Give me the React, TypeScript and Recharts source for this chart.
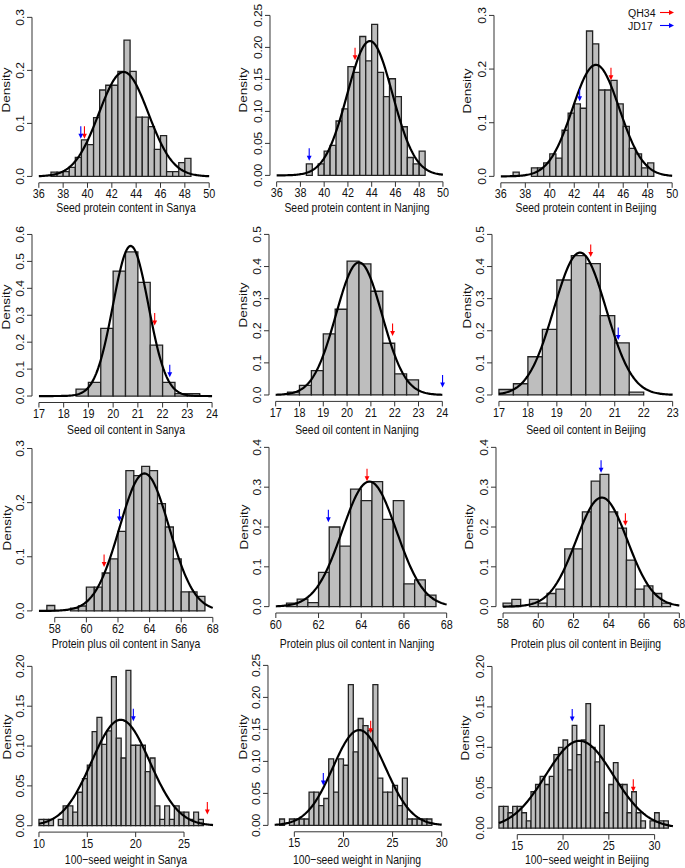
import React from 'react';
import { ComposedChart, XAxis, YAxis, Line, Scatter, ReferenceArea, ReferenceLine } from 'recharts';

const FONT = '"Liberation Sans", Arial, Helvetica, sans-serif';

// ---------------- data ----------------
const panelTitles = [
  'Seed protein content in Sanya', 'Seed protein content in Nanjing', 'Seed protein content in Beijing',
  'Seed oil content in Sanya', 'Seed oil content in Nanjing', 'Seed oil content in Beijing',
  'Protein plus oil content in Sanya', 'Protein plus oil content in Nanjing', 'Protein plus oil content in Beijing',
  '100\u2212seed weight in Sanya', '100\u2212seed weight in Nanjing', '100\u2212seed weight in Beijing',
];
const yLabel = 'Density';
const legendNames = ['QH34', 'JD17'];

const binWidth = 0.5;
const binStarts = [37, 38.5, 37, 18.5, 17.5, 17, 57.5, 60.5, 58, 10, 13.5, 13];

const sanyaProtein = [0.008, 0.008, 0.009, 0.017, 0.036, 0.069, 0.060, 0.111, 0.163, 0.172, 0.172, 0.198, 0.257, 0.198, 0.112, 0.112, 0.094, 0.051, 0.077, 0.009, 0.009, 0.026, 0.034];
const nanjingProtein = [0.018, 0, 0.018, 0.038, 0.047, 0.085, 0.104, 0.170, 0.161, 0.217, 0.179, 0.236, 0.161, 0.123, 0.151, 0.123, 0.076, 0.028, 0.018, 0.038];
const beijingProtein = [0.008, 0, 0, 0.016, 0.016, 0.025, 0.042, 0.034, 0.086, 0.118, 0.135, 0.127, 0.271, 0.247, 0.161, 0.161, 0.179, 0.135, 0.093, 0.052, 0.042, 0.016, 0.025];
const sanyaOil = [0.026, 0.051, 0.251, 0.464, 0.535, 0.422, 0.189, 0.051, 0.009, 0.009];
const nanjingOil = [0.009, 0.030, 0.076, 0.190, 0.267, 0.417, 0.408, 0.323, 0.161, 0.066, 0.047];
const beijingOil = [0.017, 0.035, 0.119, 0.204, 0.358, 0.434, 0.409, 0.247, 0.162, 0.009];
const sanyaProteinOil = [0.010, 0, 0, 0.005, 0.009, 0.044, 0.044, 0.070, 0.096, 0.147, 0.259, 0.250, 0.267, 0.259, 0.198, 0.155, 0.096, 0.035, 0.035, 0.027];
const nanjingProteinOil = [0.009, 0.019, 0.010, 0.086, 0.200, 0.152, 0.295, 0.266, 0.314, 0.219, 0.266, 0.057, 0.067, 0.029];
const beijingProteinOil = [0.009, 0.018, 0, 0.018, 0.009, 0.033, 0.044, 0.145, 0.145, 0.238, 0.315, 0.332, 0.238, 0.197, 0.117, 0.044, 0.052, 0.033, 0.009];
const sanyaWeight = [0.008, 0.008, 0.008, 0, 0.008, 0.025, 0.025, 0.017, 0.042, 0.059, 0.076, 0.118, 0.136, 0.102, 0.119, 0.187, 0.110, 0.085, 0.195, 0.101, 0.101, 0.101, 0.068, 0.085, 0.025, 0.008, 0.025, 0.008, 0.025, 0.017, 0.017, 0.008, 0.017, 0.008];
const nanjingWeight = [0.010, 0, 0.010, 0.010, 0.010, 0.010, 0.052, 0.052, 0.031, 0.042, 0.104, 0.052, 0.104, 0.094, 0.220, 0.115, 0.167, 0.156, 0.148, 0.220, 0.074, 0.052, 0.052, 0.0625, 0.031, 0.074, 0.010, 0.010, 0.010, 0.010, 0.010];
const beijingWeight = [0.027, 0.027, 0.019, 0.027, 0.027, 0.019, 0.009, 0.045, 0.054, 0.064, 0.054, 0.064, 0.091, 0.100, 0.109, 0.072, 0.127, 0.091, 0.109, 0.154, 0.100, 0.082, 0.127, 0.019, 0.054, 0.081, 0.054, 0.054, 0.019, 0.045, 0.019, 0.009, 0, 0.009, 0.019, 0.009, 0.009];

const densities = [
  sanyaProtein, nanjingProtein, beijingProtein,
  sanyaOil, nanjingOil, beijingOil,
  sanyaProteinOil, nanjingProteinOil, beijingProteinOil,
  sanyaWeight, nanjingWeight, beijingWeight,
];

const xLimits = [[36, 50], [36, 50], [36, 50], [17, 24], [17, 24], [17, 23], [57, 68], [60, 68], [58, 68], [10, 28], [13, 30], [13, 32]];
const xTicks = [
  [36, 38, 40, 42, 44, 46, 48, 50], [36, 38, 40, 42, 44, 46, 48, 50], [36, 38, 40, 42, 44, 46, 48, 50],
  [17, 18, 19, 20, 21, 22, 23, 24], [17, 18, 19, 20, 21, 22, 23, 24], [17, 18, 19, 20, 21, 22, 23],
  [58, 60, 62, 64, 66, 68], [60, 62, 64, 66, 68], [58, 60, 62, 64, 66, 68],
  [10, 15, 20, 25], [15, 20, 25, 30], [15, 20, 25, 30],
];
const yTicks = [
  [0, 0.1, 0.2, 0.3], [0, 0.05, 0.1, 0.15, 0.2, 0.25], [0, 0.1, 0.2, 0.3],
  [0, 0.1, 0.2, 0.3, 0.4, 0.5, 0.6], [0, 0.1, 0.2, 0.3, 0.4, 0.5], [0, 0.1, 0.2, 0.3, 0.4, 0.5],
  [0, 0.1, 0.2, 0.3], [0, 0.1, 0.2, 0.3, 0.4], [0, 0.1, 0.2, 0.3, 0.4],
  [0, 0.05, 0.1, 0.15, 0.2], [0, 0.05, 0.1, 0.15, 0.2, 0.25], [0, 0.05, 0.1, 0.15, 0.2],
];
const yDecimals = [1, 2, 1, 1, 1, 1, 1, 1, 1, 2, 2, 2];

// fitted normal curves (mean, sd)
const fitMean = [42.97, 43.85, 43.77, 20.71, 20.5, 19.8, 63.67, 64.38, 63.6, 18.45, 21.6, 21.8];
const fitSD = [2.025, 1.9, 1.918, 0.716, 0.966, 0.9, 1.571, 1.27, 1.456, 3.0, 2.677, 3.694];

// parent marker arrows (x position, density of arrow tip)
const qh34X = [39.75, 42.6, 45.0, 21.68, 21.91, 20.17, 61.12, 64.27, 64.94, 27.41, 22.77, 27.67];
const qh34Y = [0.071, 0.18, 0.179, 0.262, 0.184, 0.43, 0.081, 0.315, 0.203, 0.014, 0.144, 0.045];
const jd17X = [39.45, 38.74, 42.44, 22.29, 24.01, 21.12, 62.09, 62.46, 63.56, 19.76, 17.95, 21.0];
const jd17Y = [0.071, 0.023, 0.14, 0.07, 0.023, 0.171, 0.165, 0.212, 0.336, 0.131, 0.0625, 0.132];

// ---------------- layout (plot regions in page px) ----------------
const plotRects = [
  [32, 10.6, 216, 182.4], [270, 8.6, 449.6, 181.4], [494, 8.6, 679, 182.4],
  [32, 227.5, 219, 402], [269, 228, 449, 401.4], [492, 228, 679.6, 401.4],
  [31.5, 441.8, 219.3, 617.2], [269, 441, 453.5, 613], [495.6, 441, 686, 613],
  [32, 660.3, 220, 832.4], [268, 658.6, 448.4, 831.4], [492.4, 660.2, 680.3, 834.8],
];
const densityPos = [[6, 90], [243, 90], [467, 91], [6, 307], [243, 305], [467, 306], [7, 528], [244, 527], [469, 527], [7, 737], [243, 737], [465, 738]];
const titlePos = [[126, 207], [357, 207], [586, 207], [126, 429], [357, 429], [586, 429], [126, 643], [357, 643], [586, 643], [126, 859], [357, 859], [587, 859]];

const SQ = 0.8;
const TSQ = 0.9;

function XTick(props: any) {
  const { x, y, payload } = props;
  return (
    <text transform={`translate(${x},${y + 9.5}) scale(${TSQ},1)`} textAnchor="middle" fontSize={12} fill="#111" fontFamily={FONT}>
      {payload.value}
    </text>
  );
}

function YTick(props: any) {
  const { x, y, payload, decimals } = props;
  return (
    <text transform={`translate(${x},${y}) rotate(-90) scale(1,${TSQ})`} textAnchor="middle" fontSize={12} fill="#111" fontFamily={FONT}>
      {Number(payload.value).toFixed(decimals)}
    </text>
  );
}

function ArrowDown(props: any) {
  const { cx, cy, color } = props;
  if (cx == null || cy == null) return null;
  return (
    <g>
      <line x1={cx} y1={cy - 12.5} x2={cx} y2={cy - 4} stroke={color} strokeWidth={1.1} />
      <path d={`M${cx - 2.4},${cy - 5} L${cx + 2.4},${cy - 5} L${cx},${cy} Z`} fill={color} />
    </g>
  );
}

function Panel({ p }: { p: number }) {
  const [L, T, R, B] = plotRects[p];
  const [lo, hi] = xLimits[p];
  const ext = 0.04 * (hi - lo);
  const yt = yTicks[p];
  const ymax = yt[yt.length - 1];
  const yext = 0.04 * ymax;
  const ML = 45, MT = 5, MR = 5, XH = 40;

  const bins = densities[p].map((d, i) => ({
    x0: binStarts[p] + i * binWidth,
    x1: binStarts[p] + (i + 1) * binWidth,
    d,
  }));

  const m = fitMean[p], s = fitSD[p];
  const curve: { x: number; y: number }[] = [];
  const N = 160;
  for (let i = 0; i <= N; i++) {
    const x = lo + ((hi - lo) * i) / N;
    const z = (x - m) / s;
    curve.push({ x, y: Math.exp(-0.5 * z * z) / (s * Math.sqrt(2 * Math.PI)) });
  }
  const qh = [{ x: qh34X[p], y: qh34Y[p] }];
  const jd = [{ x: jd17X[p], y: jd17Y[p] }];
  const xt = xTicks[p];

  return (
    <div style={{ position: 'absolute', left: L - ML, top: T - MT }}>
      <ComposedChart width={R - L + ML + MR} height={B - T + MT + XH} margin={{ top: MT, right: MR, left: 0, bottom: 0 }}>
        <XAxis
          type="number"
          dataKey="x"
          domain={[lo - ext, hi + ext]}
          allowDataOverflow
          ticks={xt}
          interval={0}
          axisLine={false}
          stroke="#333"
          tickSize={5}
          tickMargin={1}
          height={XH}
          tick={(tp: any) => <XTick {...tp} />}
        />
        <YAxis
          type="number"
          dataKey="y"
          domain={[-yext, ymax + yext]}
          allowDataOverflow
          ticks={yt}
          interval={0}
          axisLine={false}
          stroke="#333"
          tickSize={5}
          tickMargin={3}
          width={ML}
          tick={(tp: any) => <YTick {...tp} decimals={yDecimals[p]} />}
        />
        {bins.map((b, i) => (
          <ReferenceArea
            key={i}
            x1={b.x0}
            x2={b.x1}
            y1={0}
            y2={b.d}
            fill="#bebebe"
            fillOpacity={1}
            stroke="#222"
            strokeWidth={1.3}
            ifOverflow="visible"
          />
        ))}
        <ReferenceLine
          segment={[{ x: xt[0], y: -yext }, { x: xt[xt.length - 1], y: -yext }]}
          stroke="#333"
          strokeWidth={1}
          ifOverflow="visible"
        />
        <ReferenceLine
          segment={[{ x: lo - ext, y: yt[0] }, { x: lo - ext, y: ymax }]}
          stroke="#333"
          strokeWidth={1}
          ifOverflow="visible"
        />
        <Line data={curve} dataKey="y" type="linear" dot={false} stroke="#000" strokeWidth={2.2} isAnimationActive={false} />
        <Scatter data={qh} dataKey="y" fill="#ff0000" isAnimationActive={false} shape={(sp: any) => <ArrowDown {...sp} color="#ff0000" />} />
        <Scatter data={jd} dataKey="y" fill="#0000ff" isAnimationActive={false} shape={(sp: any) => <ArrowDown {...sp} color="#0000ff" />} />
      </ComposedChart>
    </div>
  );
}

function Legend() {
  const colors = ['#ff0000', '#0000ff'];
  return (
    <svg style={{ position: 'absolute', left: 615, top: 0 }} width={70} height={36}>
      {legendNames.map((name, i) => {
        const y = 12.5 + i * 13;
        return (
          <g key={name}>
            <text transform={`translate(13,${y + 4}) scale(0.92,1)`} fontSize={11.5} fill="#111" fontFamily={FONT}>{name}</text>
            <line x1={45} y1={y} x2={55} y2={y} stroke={colors[i]} strokeWidth={1.1} />
            <path d={`M${54},${y - 2.4} L${54},${y + 2.4} L${59},${y} Z`} fill={colors[i]} />
          </g>
        );
      })}
    </svg>
  );
}

export default function App() {
  const idx = [0, 1, 2, 3, 4, 5, 6, 7, 8, 9, 10, 11];
  return (
    <div style={{ position: 'absolute', left: 0, top: 0, width: 685, height: 868, overflow: 'hidden', background: '#fff', fontFamily: FONT }}>
      {idx.map((p) => (
        <Panel key={p} p={p} />
      ))}
      {idx.map((p) => (
        <div
          key={'d' + p}
          style={{
            position: 'absolute', left: densityPos[p][0], top: densityPos[p][1], fontSize: 13.5, color: '#111',
            whiteSpace: 'nowrap', lineHeight: 1, transform: `translate(-50%,-50%) rotate(-90deg) scaleY(0.85)`,
          }}
        >
          {yLabel}
        </div>
      ))}
      {idx.map((p) => (
        <div
          key={'t' + p}
          style={{
            position: 'absolute', left: titlePos[p][0], top: titlePos[p][1], fontSize: 13, color: '#111',
            whiteSpace: 'nowrap', lineHeight: 1, transform: `translate(-50%,-50%) scaleX(${SQ})`,
          }}
        >
          {panelTitles[p]}
        </div>
      ))}
      <Legend />
    </div>
  );
}
